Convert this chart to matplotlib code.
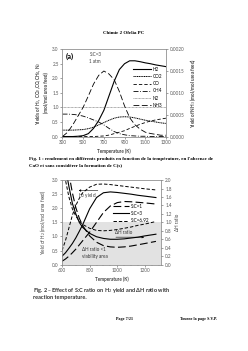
import matplotlib
matplotlib.use("Agg")
import matplotlib.pyplot as plt
from matplotlib.ticker import FormatStrFormatter, MultipleLocator

plt.rcParams['font.family'] = ['Lato', 'DejaVu Sans']

# ---------------- Figure 1 data ----------------
T1 = [300, 350, 400, 450, 500, 550, 600, 650, 700, 750, 800, 850, 900, 950,
      1000, 1050, 1100, 1150, 1200, 1250, 1300]
H2 = [0.0, 0.0, 0.0, 0.01, 0.03, 0.1, 0.28, 0.55, 0.9, 1.4, 1.9, 2.3, 2.5, 2.6,
      2.6, 2.57, 2.53, 2.5, 2.46, 2.43, 2.4]
CO2 = [0.22, 0.22, 0.22, 0.23, 0.24, 0.27, 0.32, 0.4, 0.48, 0.56, 0.63, 0.67, 0.68, 0.67,
       0.64, 0.6, 0.56, 0.53, 0.5, 0.47, 0.45]
CO = [0.0, 0.0, 0.0, 0.0, 0.0, 0.0, 0.0, 0.01, 0.02, 0.05, 0.1, 0.15, 0.2, 0.28,
      0.35, 0.42, 0.48, 0.53, 0.57, 0.6, 0.63]
CH4 = [0.77, 0.77, 0.76, 0.74, 0.7, 0.64, 0.57, 0.5, 0.4, 0.28, 0.17, 0.1, 0.06, 0.03,
       0.02, 0.01, 0.01, 0.0, 0.0, 0.0, 0.0]
N2 = [1.0] * len(T1)
NH3 = [0.0, 0.0001, 0.00027, 0.00047, 0.00067, 0.00093, 0.0012, 0.0014, 0.0015, 0.00143,
       0.0013, 0.00103, 0.0007, 0.00043, 0.00027, 0.00017, 0.0001, 0.00007, 0.00005,
       0.00003, 0.00003]
x1_ticks = [300, 500, 700, 900, 1100, 1300]

# ---------------- Figure 2 data ----------------
T2 = [600, 625, 650, 675, 700, 725, 750, 800, 850, 900, 950, 1000, 1050, 1100,
      1150, 1200, 1280]
H2_sc1 = [0.12, 0.2, 0.3, 0.42, 0.55, 0.7, 0.85, 1.15, 1.5, 1.85, 2.08, 2.2, 2.24, 2.23,
          2.21, 2.19, 2.15]
H2_sc3 = [0.3, 0.42, 0.58, 0.75, 0.95, 1.18, 1.42, 1.98, 2.38, 2.55, 2.58, 2.56, 2.53, 2.5,
          2.46, 2.43, 2.38]
H2_sc692 = [0.5, 0.85, 1.3, 1.75, 2.1, 2.35, 2.55, 2.75, 2.85, 2.86, 2.84, 2.81, 2.78, 2.75,
            2.72, 2.69, 2.65]
dH_sc1 = [3.5, 2.8, 2.15, 1.7, 1.35, 1.1, 0.92, 0.68, 0.53, 0.45, 0.42, 0.41, 0.42, 0.44,
          0.47, 0.5, 0.55]
dH_sc3 = [3.2, 2.3, 1.85, 1.45, 1.2, 1.0, 0.88, 0.74, 0.66, 0.62, 0.6, 0.6, 0.61, 0.63,
          0.65, 0.68, 0.72]
dH_sc692 = [2.6, 2.0, 1.6, 1.32, 1.15, 1.03, 0.95, 0.86, 0.81, 0.8, 0.81, 0.83, 0.86, 0.89,
            0.93, 0.96, 1.02]
x2_ticks = [600, 800, 1000, 1200]

TICKC = '#595959'
FS = 3.3

fig = plt.figure(figsize=(2.48, 3.51), dpi=100)
fig.patch.set_facecolor('white')

def style(ax):
    ax.tick_params(labelsize=FS, length=1.5, width=0.4, pad=1.2, colors=TICKC,
                   labelcolor=TICKC)
    for s in ax.spines.values():
        s.set_linewidth(0.4)
        s.set_color('#8c8c8c')

# ---------------- Chart 1 ----------------
ax1 = fig.add_axes([0.252, 0.611, 0.417, 0.249])
ax1.set_xlim(300, 1300)
ax1.set_ylim(0, 3.0)
ax1.set_xticks(x1_ticks)
ax1.yaxis.set_major_locator(MultipleLocator(0.5))
ax1.yaxis.set_major_formatter(FormatStrFormatter('%.1f'))
style(ax1)
l_h2, = ax1.plot(T1, H2, color='black', lw=0.8, label='H2')
l_co2, = ax1.plot(T1, CO2, color='black', lw=0.7, ls=(0, (1.2, 0.6)), label='CO2')
l_co, = ax1.plot(T1, CO, color='black', lw=0.6, ls=(0, (4, 2.5)), label='CO')
l_ch4, = ax1.plot(T1, CH4, color='black', lw=0.6, ls=(0, (6, 2, 1, 2)), label='CH4')
l_n2, = ax1.plot(T1, N2, color='#555555', lw=0.4, ls=(0, (1.5, 1)), label='N2')
ax1r = ax1.twinx()
ax1r.set_ylim(0, 0.002)
ax1r.yaxis.set_major_locator(MultipleLocator(0.0005))
ax1r.yaxis.set_major_formatter(FormatStrFormatter('%.4f'))
style(ax1r)
l_nh3, = ax1r.plot(T1, NH3, color='black', lw=0.6, ls=(0, (7, 3)), label='NH3')
ax1r.legend(handles=[l_h2, l_co2, l_co, l_ch4, l_n2, l_nh3], loc='upper left',
            bbox_to_anchor=(0.68, 0.80), frameon=False, fontsize=FS,
            handlelength=4.0, handletextpad=0.4, labelspacing=0.5,
            borderaxespad=0, borderpad=0)
ax1.text(330, 2.76, '(a)', fontsize=5.5, fontweight='bold', va='center', ha='left')
ax1.text(560, 2.8, 'S:C=3', fontsize=FS, color='#404040', va='center', ha='left')
ax1.text(560, 2.58, '1 atm', fontsize=FS, color='#404040', va='center', ha='left')
ax1.set_xlabel('Temperature (K)', fontsize=FS, color='#404040', labelpad=2,
               fontweight='bold')
ax1.set_ylabel('Yields of H$_2$, CO$_2$,CO,CH$_4$, N$_2$\n(mol/mol urea feed)',
               fontsize=FS, color='#404040', labelpad=2, fontweight='bold',
               linespacing=1.1)
ax1r.set_ylabel('Yield of NH$_3$ (mol/mol urea feed)', fontsize=FS, color='#404040',
                labelpad=2.5, fontweight='bold')

# ---------------- Chart 2 ----------------
ax2 = fig.add_axes([0.25, 0.246, 0.401, 0.241])
ax2.set_xlim(600, 1320)
ax2.set_ylim(0, 3.0)
ax2.set_xticks(x2_ticks)
ax2.xaxis.set_minor_locator(MultipleLocator(50))
ax2.yaxis.set_major_locator(MultipleLocator(0.5))
ax2.yaxis.set_major_formatter(FormatStrFormatter('%.1f'))
style(ax2)
ax2.tick_params(which='minor', length=0.8, width=0.3, colors=TICKC)
ax2.axhspan(0, 1.5, color='#e2e2e2', zorder=0, lw=0)
s1, = ax2.plot(T2, H2_sc1, color='black', lw=0.8, ls=(0, (7, 3)), label='S:C=1')
s3, = ax2.plot(T2, H2_sc3, color='black', lw=0.8, label='S:C=3')
s6, = ax2.plot(T2, H2_sc692, color='black', lw=0.7, ls=(0, (3.5, 2)), label='S:C=6.92')
ax2r = ax2.twinx()
ax2r.set_ylim(0, 2.0)
ax2r.yaxis.set_major_locator(MultipleLocator(0.2))
ax2r.yaxis.set_major_formatter(FormatStrFormatter('%.1f'))
style(ax2r)
ax2r.plot(T2, dH_sc1, color='black', lw=0.8, ls=(0, (7, 3)))
ax2r.plot(T2, dH_sc3, color='black', lw=0.8)
ax2r.plot(T2, dH_sc692, color='black', lw=0.7, ls=(0, (3.5, 2)))
ax2r.legend(handles=[s1, s3, s6], loc='upper left', bbox_to_anchor=(0.51, 0.72),
            frameon=False, fontsize=FS, handlelength=3.6, handletextpad=0.4,
            labelspacing=0.5, borderaxespad=0, borderpad=0)
ax2.annotate('', xy=(700, 2.63), xytext=(880, 2.63),
             arrowprops=dict(arrowstyle='-|>', lw=0.4, color='black', mutation_scale=3))
ax2.text(785, 2.45, 'H$_2$ yield', fontsize=FS, ha='center', va='center', color='#303030')
ax2r.annotate('', xy=(1215, 0.65), xytext=(970, 0.65),
              arrowprops=dict(arrowstyle='-|>', lw=0.4, color='black', mutation_scale=3))
ax2r.text(1050, 0.75, '\u0394H ratio', fontsize=FS, ha='center', va='center',
          color='#303030')
ax2.text(745, 0.55, '\u0394H ratio <1', fontsize=FS, ha='left', va='center',
         color='#303030')
ax2.text(745, 0.3, 'viability area', fontsize=FS, ha='left', va='center',
         color='#303030')
ax2.set_xlabel('Temperature (K)', fontsize=FS, color='#404040', labelpad=2,
               fontweight='bold')
ax2.set_ylabel('Yield of H$_2$ (mol/mol urea feed)', fontsize=FS, color='#404040',
               labelpad=2.5)
ax2r.set_ylabel('\u0394H ratio', fontsize=FS, color='#404040', labelpad=2.5)

# ---------------- Page texts ----------------
fig.text(0.5, 0.907, 'Chimie 2 Ofelia PC', fontsize=3.6, fontweight='bold',
         family=['Liberation Serif'], ha='center', va='center')
fig.text(0.117, 0.547, "Fig. 1 : rendement en diff\u00e9rents produits en fonction de la "
         "temp\u00e9rature, en l'absence de", fontsize=3.6, fontweight='bold',
         family=['Liberation Serif'], ha='left', va='center')
fig.text(0.117, 0.530, "CaO et sans consid\u00e9rer la formation de C(s)", fontsize=3.6,
         fontweight='bold', family=['Liberation Serif'], ha='left', va='center')
fig.text(0.133, 0.171, "Fig. 2 \u2013 Effect of S:C ratio on H$_2$ yield and \u0394H ratio with",
         fontsize=4.0, fontweight='bold', ha='left', va='center', color='#303030')
fig.text(0.133, 0.151, "reaction temperature.", fontsize=4.0, fontweight='bold',
         ha='left', va='center', color='#303030')
fig.text(0.5, 0.092, 'Page 7/21', fontsize=3.0, fontweight='bold',
         family=['Liberation Serif'], ha='center', va='center')
fig.text(0.80, 0.092, 'Tourne la page S.V.P.', fontsize=3.0, fontweight='bold',
         family=['Liberation Serif'], ha='center', va='center')

fig.savefig('out.png', dpi=100)
